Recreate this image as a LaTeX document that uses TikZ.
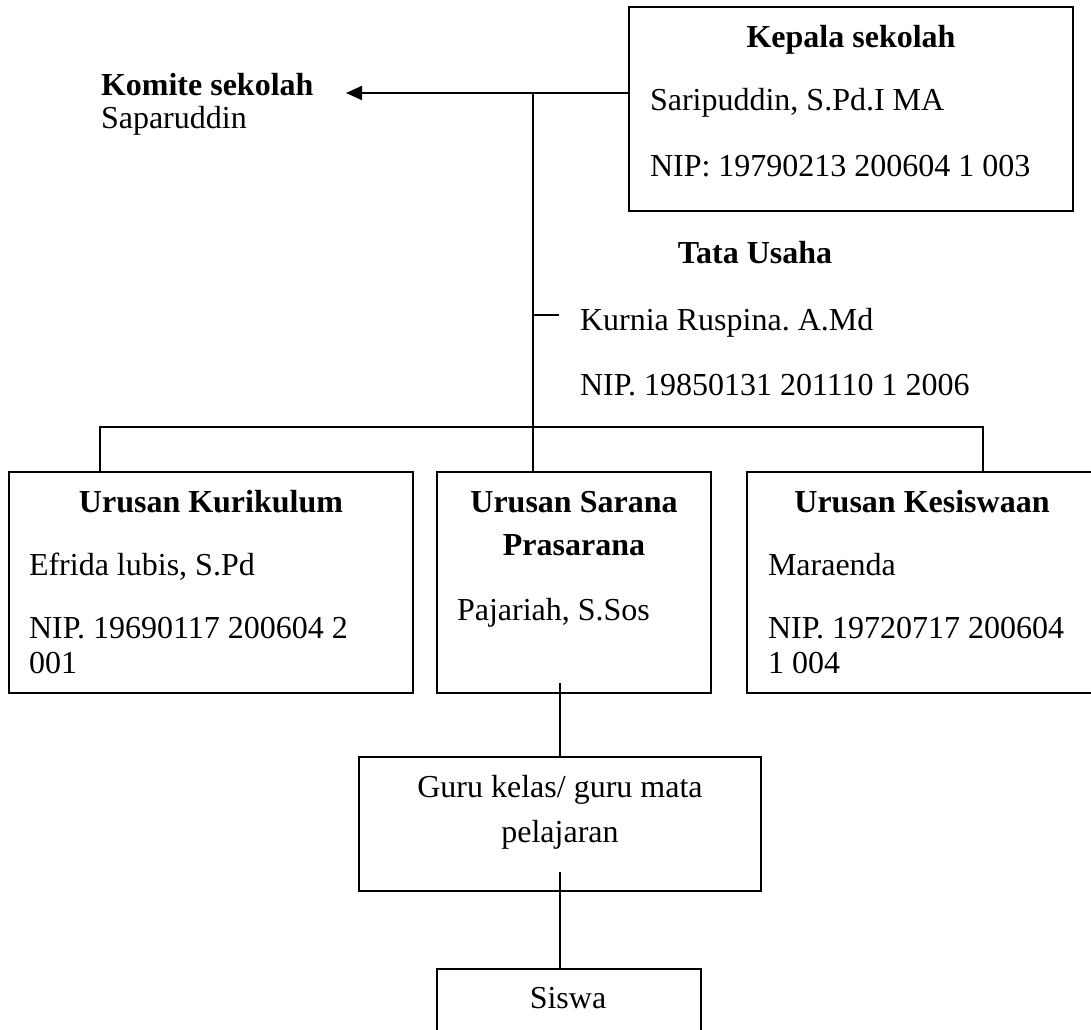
\documentclass[tikz,border=0pt]{standalone}
\usepackage{fontspec}
\setmainfont{Liberation Serif}
\usetikzlibrary{arrows.meta}
\frenchspacing
\begin{document}
\begin{tikzpicture}[x=1pt,y=-1pt,line join=miter,>={Triangle[length=16pt,width=14pt]},font=\fontsize{32}{37}\selectfont]
\tikzset{kotak/.style={draw,line width=1.8pt,inner sep=0pt,outer sep=0pt,anchor=north west},
	teks/.style={inner sep=0pt,outer sep=0pt,anchor=base west},
	judul/.style={inner sep=0pt,outer sep=0pt,anchor=base,font=\fontsize{32}{37}\selectfont\bfseries},
	garis/.style={line width=1.8pt}}
\useasboundingbox (0,0) rectangle (1091,1029);
% kotak
\node[kotak,minimum width=444pt,minimum height=204pt] (kepala) at (629,7) {};
\node[kotak,minimum width=404pt,minimum height=221pt] (kurikulum) at (9,472) {};
\node[kotak,minimum width=274pt,minimum height=221pt] (sarana) at (437,472) {};
\node[kotak,minimum width=350pt,minimum height=221pt] (kesiswaan) at (747,472) {};
\node[kotak,minimum width=402pt,minimum height=134pt] (guru) at (359,757) {};
\node[kotak,minimum width=264pt,minimum height=80pt] (siswa) at (437,969) {};
% teks
\node[judul] (jkepala) at (851,47) {Kepala sekolah};
\node[teks] (nkepala) at (650,110) {Saripuddin, S.Pd.I MA};
\node[teks] (nipkepala) at (650,176) {NIP: 19790213 200604 1 003};
\node[judul,anchor=base west] (komite) at (101,95) {Komite sekolah};
\node[teks] (nkomite) at (101,128) {Saparuddin};
\node[judul] (jtu) at (755,263) {Tata Usaha};
\node[teks] (ntu) at (580,330) {Kurnia Ruspina. A.Md};
\node[teks] (niptu) at (580,395) {NIP. 19850131 201110 1 2006};
\node[judul] (jkurikulum) at (211,512) {Urusan Kurikulum};
\node[teks] (nkurikulum) at (29,575) {Efrida lubis, S.Pd};
\node[teks] (nipkurikulum) at (29,638) {NIP. 19690117 200604 2};
\node[teks] (nipkurikulumb) at (29,673) {001};
\node[judul] (jsarana) at (574,512) {Urusan Sarana};
\node[judul] (jsaranab) at (574,555) {Prasarana};
\node[teks] (nsarana) at (457,620) {Pajariah, S.Sos};
\node[judul] (jkesiswaan) at (922,512) {Urusan Kesiswaan};
\node[teks] (nkesiswaan) at (768,575) {Maraenda};
\node[teks] (nipkesiswaan) at (768,638) {NIP. 19720717 200604};
\node[teks] (nipkesiswaanb) at (768,673) {1 004};
\node[inner sep=0pt,anchor=base] (tguru) at (560,797) {Guru kelas/ guru mata};
\node[inner sep=0pt,anchor=base] (tgurub) at (560,842) {pelajaran};
\node[inner sep=0pt,anchor=base] (tsiswa) at (568,1008) {Siswa};
% garis
\coordinate (cabang) at (533,93);
\coordinate (ujung) at (346,93);
\coordinate (bagi) at (533,427);
\coordinate (tu) at (559,315);
\draw[garis,->] (kepala.west |- cabang) -- (ujung);
\draw[garis] (cabang) -- (cabang |- sarana.north);
\draw[garis] (tu) -- (tu -| cabang);
\draw[garis] ([xshift=91pt]kurikulum.north west) |- (bagi) -| ([xshift=236pt]kesiswaan.north west);
\draw[garis] ([yshift=10pt]sarana.south -| guru.north) -- (guru.north);
\draw[garis] ([yshift=19pt]guru.south) -- (guru.south |- siswa.north);
\end{tikzpicture}
\end{document}
